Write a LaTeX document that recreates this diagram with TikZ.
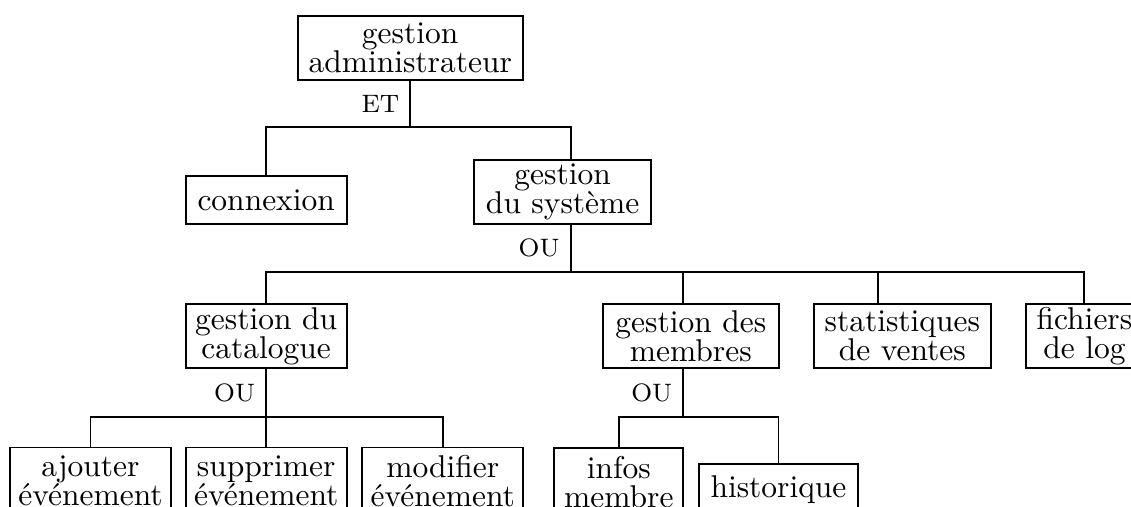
\documentclass[tikz,border=0pt]{standalone}
\usetikzlibrary{calc}
\tikzset{
  box/.style={draw, line width=0.6pt, align=center, inner sep=1pt,
    font=\fontsize{10}{9.3}\selectfont},
  sz/.style 2 args={minimum width=#1*0.3175pt, minimum height=#2*0.3175pt},
  lbl/.style={font=\footnotesize, inner sep=3.33pt},
  conn/.style={line width=0.6pt},
}
\begin{document}
\begin{tikzpicture}[x=0.3175pt, y=-0.3175pt]
\useasboundingbox (0,0) rectangle (1131,507);
\clip (0,0) rectangle (1131,507);

% level 0
\node[box, sz={225}{64.3}] (root) at (410.2,47.85) {gestion\\administrateur};
% level 1
\node[box, sz={161}{48.3}] (connexion) at (266.2,199.85) {connexion};
\node[box, sz={176.7}{64}] (systeme) at (562.7,192) {gestion\\du système};
% level 2
\node[box, sz={161}{64}] (catalogue) at (266.2,336) {gestion du\\catalogue};
\node[box, sz={176.3}{64}] (membres) at (690.8,336) {gestion des\\membres};
\node[box, sz={176.7}{64}] (stats) at (902.3,336) {statistiques\\de ventes};
\node[box, sz={117.6}{64}] (fichiers) at (1084.4,336) {fichiers\\de log};
% level 3
\node[box, sz={161}{67}] (ajouter) at (90.5,481) {ajouter\\événement};
\node[box, sz={161}{67}] (supprimer) at (266.2,481) {supprimer\\événement};
\node[box, sz={161}{67}] (modifier) at (442.8,481) {modifier\\événement};
\node[box, sz={129}{67}] (infos) at (618.8,481.8) {infos\\membre};
\node[box, sz={158.6}{50}] (historique) at (778.5,489.3) {historique};

% junctions
\coordinate (b1) at (410.2,127.3);
\coordinate (sysT) at ($(systeme.north)+(8,0)$);
\coordinate (sysB) at ($(systeme.south)+(8,0)$);
\coordinate (b2) at ($(sysB)+(0,46.7)$);
\coordinate (memT) at ($(membres.north)+(-7.8,0)$);
\coordinate (memB) at ($(membres.south)+(-7.5,0)$);
\coordinate (statT) at ($(stats.north)+(-24.3,0)$);
\coordinate (b3) at ($(catalogue.south)+(0,47.7)$);
\coordinate (b4) at ($(memB)+(0,47.7)$);

% connectors
\draw[conn] (root.south) -- (b1);
\draw[conn] (connexion.north) |- (b1) -| (sysT);
\draw[conn] (sysB) -- (b2);
\draw[conn] (catalogue.north) |- (b2) -| (fichiers.north);
\draw[conn] (memT) -- (memT |- b2);
\draw[conn] (statT) -- (statT |- b2);
\draw[conn] (catalogue.south) -- (b3);
\draw[conn] (ajouter.north) |- (b3) -| (modifier.north);
\draw[conn] (supprimer.north) -- (supprimer.north |- b3);
\draw[conn] (memB) -- (b4);
\draw[conn] (infos.north) |- (b4) -| (historique.north);

% labels
\node[lbl, left] (lET) at ($(root.south)!0.5!(b1)$) {ET};
\node[lbl, left] (lOU1) at ($(sysB)!0.5!(b2)$) {OU};
\node[lbl, left] (lOU2) at ($(catalogue.south)!0.5!(b3)$) {OU};
\node[lbl, left] (lOU3) at ($(memB)!0.5!(b4)$) {OU};
\end{tikzpicture}
\end{document}
